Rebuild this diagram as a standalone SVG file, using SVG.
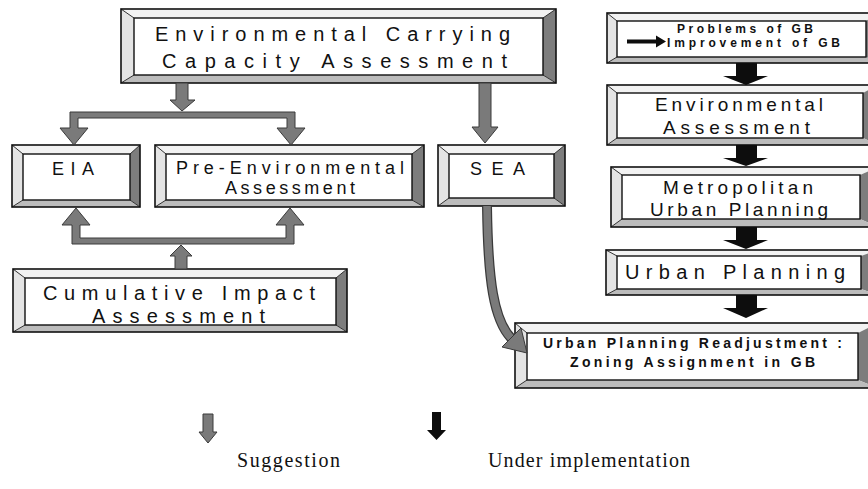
<svg xmlns="http://www.w3.org/2000/svg" width="868" height="489" viewBox="0 0 868 489">
<style>
.bt{fill:#f2f2f2}
.bl{fill:#e4e4e4}
.br{fill:#7d7d7d}
.bb{fill:#bcbcbc}
.outer{fill:none;stroke:#111;stroke-width:1.6}
.inner{fill:#fff;stroke:#111;stroke-width:1.4}
.diag{stroke:#333;stroke-width:1}
.t{font-family:"Liberation Sans",Arial,sans-serif;fill:#111}
.tb{font-family:"Liberation Sans",Arial,sans-serif;font-weight:bold;fill:#111}
.ga{fill:#7a7a7a;stroke:#3a3a3a;stroke-width:1}
.ba{fill:#0d0d0d}
.leg{font-family:"Liberation Serif","Times New Roman",serif;fill:#111;font-size:20px}
</style>
<rect width="868" height="489" fill="#fff"/>

<g id="ecca">
<polygon class="bt" points="121,9 556,9 543,18 134,18"/>
<polygon class="bl" points="121,9 134,18 134,75 121,83"/>
<polygon class="br" points="556,9 556,83 543,75 543,18"/>
<polygon class="bb" points="121,83 134,75 543,75 556,83"/>
<path class="diag" d="M121,9L134,18M556,9L543,18M121,83L134,75M556,83L543,75"/>
<rect class="outer" x="121" y="9" width="435" height="74"/>
<rect class="inner" x="134" y="18" width="409" height="57"/>
<text class="t" font-size="20" x="155" y="41" textLength="355" lengthAdjust="spacing">Environmental Carrying</text>
<text class="t" font-size="20" x="162" y="68" textLength="345" lengthAdjust="spacing">Capacity Assessment</text>
</g>

<g id="eia">
<polygon class="bt" points="12,145 140,145 130,154 23,154"/>
<polygon class="bl" points="12,145 23,154 23,200 12,207"/>
<polygon class="br" points="140,145 140,207 130,200 130,154"/>
<polygon class="bb" points="12,207 23,200 130,200 140,207"/>
<path class="diag" d="M12,145L23,154M140,145L130,154M12,207L23,200M140,207L130,200"/>
<rect class="outer" x="12" y="145" width="128" height="62"/>
<rect class="inner" x="23" y="154" width="107" height="46"/>
<text class="t" font-size="18" x="52" y="175" textLength="42" lengthAdjust="spacing">EIA</text>
</g>

<g id="pre">
<polygon class="bt" points="155,145 424,145 412,154 166,154"/>
<polygon class="bl" points="155,145 166,154 166,200 155,207"/>
<polygon class="br" points="424,145 424,207 412,200 412,154"/>
<polygon class="bb" points="155,207 166,200 412,200 424,207"/>
<path class="diag" d="M155,145L166,154M424,145L412,154M155,207L166,200M424,207L412,200"/>
<rect class="outer" x="155" y="145" width="269" height="62"/>
<rect class="inner" x="166" y="154" width="246" height="46"/>
<text class="t" font-size="18" x="176" y="174" textLength="228" lengthAdjust="spacing">Pre-Environmental</text>
<text class="t" font-size="18" x="225" y="194" textLength="130" lengthAdjust="spacing">Assessment</text>
</g>

<g id="sea">
<polygon class="bt" points="438,145 565,145 554,154 449,154"/>
<polygon class="bl" points="438,145 449,154 449,198 438,206"/>
<polygon class="br" points="565,145 565,206 554,198 554,154"/>
<polygon class="bb" points="438,206 449,198 554,198 565,206"/>
<path class="diag" d="M438,145L449,154M565,145L554,154M438,206L449,198M565,206L554,198"/>
<rect class="outer" x="438" y="145" width="127" height="61"/>
<rect class="inner" x="449" y="154" width="105" height="44"/>
<text class="t" font-size="18" x="470" y="175" textLength="55" lengthAdjust="spacing">SEA</text>
</g>

<g id="cia">
<polygon class="bt" points="13,269 347,269 336,278 25,278"/>
<polygon class="bl" points="13,269 25,278 25,325 13,332"/>
<polygon class="br" points="347,269 347,332 336,325 336,278"/>
<polygon class="bb" points="13,332 25,325 336,325 347,332"/>
<path class="diag" d="M13,269L25,278M347,269L336,278M13,332L25,325M347,332L336,325"/>
<rect class="outer" x="13" y="269" width="334" height="63"/>
<rect class="inner" x="25" y="278" width="311" height="47"/>
<text class="t" font-size="20" x="43" y="300" textLength="272" lengthAdjust="spacing">Cumulative Impact</text>
<text class="t" font-size="20" x="92" y="323" textLength="173" lengthAdjust="spacing">Assessment</text>
</g>

<g id="problems">
<polygon class="bt" points="607,13 878,13 866,21 617,21"/>
<polygon class="bl" points="607,13 617,21 617,57 607,63"/>
<polygon class="br" points="878,13 878,63 866,57 866,21"/>
<polygon class="bb" points="607,63 617,57 866,57 878,63"/>
<path class="diag" d="M607,13L617,21M607,63L617,57"/>
<rect class="outer" x="607" y="13" width="271" height="50"/>
<rect class="inner" x="617" y="21" width="249" height="36"/>
<text class="tb" font-size="12" x="677" y="33" textLength="136" lengthAdjust="spacing">Problems of GB</text>
<path class="ba" d="M627,39.5L656,39.5L656,35.5L666,41.5L656,47.5L656,43.5L627,43.5Z"/>
<text class="tb" font-size="12" x="667" y="47" textLength="173" lengthAdjust="spacing">Improvement of GB</text>
</g>

<g id="ea">
<polygon class="bt" points="607,85 878,85 863,93 617,93"/>
<polygon class="bl" points="607,85 617,93 617,138 607,145"/>
<polygon class="br" points="878,85 878,145 863,138 863,93"/>
<polygon class="bb" points="607,145 617,138 863,138 878,145"/>
<path class="diag" d="M607,85L617,93M607,145L617,138"/>
<rect class="outer" x="607" y="85" width="271" height="60"/>
<rect class="inner" x="617" y="93" width="246" height="45"/>
<text class="t" font-size="19" x="655" y="111" textLength="168" lengthAdjust="spacing">Environmental</text>
<text class="t" font-size="19" x="663" y="134" textLength="147" lengthAdjust="spacing">Assessment</text>
</g>

<g id="mup">
<polygon class="bt" points="611,167 878,167 860,175 622,175"/>
<polygon class="bl" points="611,167 622,175 622,219 611,227"/>
<polygon class="br" points="878,167 878,227 860,219 860,175"/>
<polygon class="bb" points="611,227 622,219 860,219 878,227"/>
<path class="diag" d="M611,167L622,175M611,227L622,219"/>
<rect class="outer" x="611" y="167" width="267" height="60"/>
<rect class="inner" x="622" y="175" width="238" height="44"/>
<text class="t" font-size="19" x="663" y="194" textLength="150" lengthAdjust="spacing">Metropolitan</text>
<text class="t" font-size="19" x="650" y="216" textLength="178" lengthAdjust="spacing">Urban Planning</text>
</g>

<g id="up">
<polygon class="bt" points="606,250 878,250 861,256 617,256"/>
<polygon class="bl" points="606,250 617,256 617,289 606,295"/>
<polygon class="br" points="878,250 878,295 861,289 861,256"/>
<polygon class="bb" points="606,295 617,289 861,289 878,295"/>
<path class="diag" d="M606,250L617,256M606,295L617,289"/>
<rect class="outer" x="606" y="250" width="272" height="45"/>
<rect class="inner" x="617" y="256" width="244" height="33"/>
<text class="t" font-size="20" x="625" y="279" textLength="220" lengthAdjust="spacing">Urban Planning</text>
</g>

<g id="upr">
<polygon class="bt" points="515,323 878,323 858,333 527,333"/>
<polygon class="bl" points="515,323 527,333 527,380 515,388"/>
<polygon class="br" points="878,323 878,388 858,380 858,333"/>
<polygon class="bb" points="515,388 527,380 858,380 878,388"/>
<path class="diag" d="M515,323L527,333M515,388L527,380"/>
<rect class="outer" x="515" y="323" width="363" height="65"/>
<rect class="inner" x="527" y="333" width="331" height="47"/>
<text class="tb" font-size="14" x="543" y="348" textLength="299" lengthAdjust="spacing">Urban Planning Readjustment :</text>
<text class="tb" font-size="14" x="570" y="367" textLength="245" lengthAdjust="spacing">Zoning Assignment in GB</text>
</g>

<g id="connectors">
<path class="ga" d="M176,83L176,100L170,100L182,111L195,100L188,100L188,83Z"/>
<path class="ga" d="M70,128L70,112L295,112L295,128L305,128L291,145L277,128L287,128L287,118L78,118L78,128L88,128L74,145L60,128Z"/>
<path class="ga" d="M72,225L62,225L76,208L90,225L80,225L80,238L286,238L286,225L276,225L290,208L304,225L294,225L294,244L72,244Z"/>
<path class="ga" d="M175,269L175,256L170,256L181,245L192,256L187,256L187,269Z"/>
<path class="ga" d="M479,83L479,127L472,127L485,143L498,127L491,127L491,83Z"/>
<path d="M487,206C488,282 494,320 511,338" fill="none" stroke="#3a3a3a" stroke-width="10"/>
<path d="M487,206C488,282 494,320 511,338" fill="none" stroke="#7a7a7a" stroke-width="7.5"/>
<polygon class="ga" points="502,347 521,328 527,353"/>
<path class="ba" d="M736,63L757,63L757,76L768,76L746,85L723,76L736,76Z"/>
<path class="ba" d="M736,145L757,145L757,158L768,158L746,166L723,158L736,158Z"/>
<path class="ba" d="M736,227L757,227L757,240L768,240L746,249L723,240L736,240Z"/>
<path class="ba" d="M736,295L757,295L757,308L768,308L746,318L723,308L736,308Z"/>
</g>

<g id="legend">
<path class="ga" d="M203,414L213,414L213,432L217,432L208,443L199,432L203,432Z"/>
<text class="leg" x="237" y="467" textLength="103" lengthAdjust="spacing">Suggestion</text>
<path class="ba" d="M432,412L441,412L441,430L446,430L436.5,440L427,430L432,430Z"/>
<text class="leg" x="488" y="467" textLength="202" lengthAdjust="spacing">Under implementation</text>
</g>
</svg>
